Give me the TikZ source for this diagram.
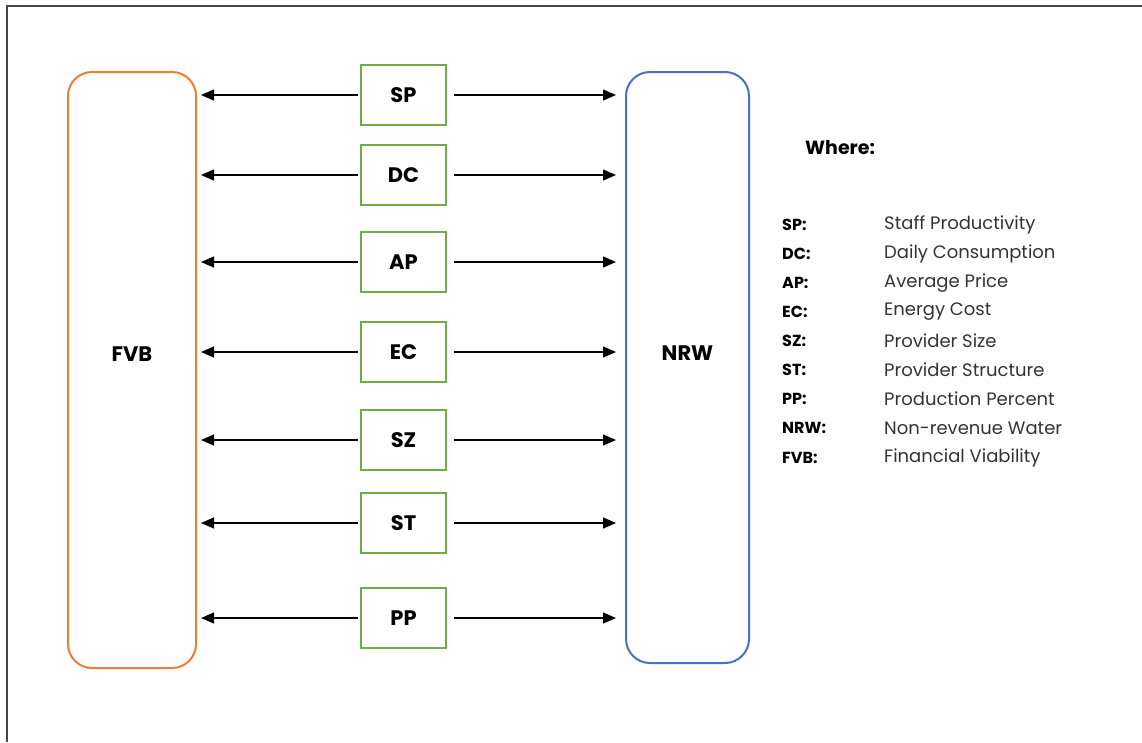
\documentclass[tikz,border=0pt]{standalone}
\usepackage{fontspec}
\setmainfont{Poppins}
\usetikzlibrary{arrows.meta}
\definecolor{orng}{RGB}{237,125,49}
\definecolor{blu}{RGB}{68,114,196}
\definecolor{grn}{RGB}{112,173,71}
\definecolor{framegray}{RGB}{70,70,70}
\tikzset{
  bigbox/.style={draw, line width=2pt, rounded corners=24pt, inner sep=0pt},
  varbox/.style={draw=grn, line width=2pt, minimum width=85pt, minimum height=60pt, inner sep=0pt, font=\fontsize{21}{24}\selectfont\bfseries},
  biglabel/.style={font=\fontsize{21}{24}\selectfont\bfseries},
  arr/.style={line width=1.3pt, -{Triangle[length=13pt,width=11pt]}},
  abbr/.style={anchor=west, font=\fontsize{16}{19}\selectfont\bfseries, inner sep=0pt},
  desc/.style={anchor=west, font=\fontsize{18}{21}\selectfont, text=black!80, inner sep=0pt}
}
\begin{document}
\begin{tikzpicture}[x=1pt,y=-1pt]
\useasboundingbox (0,0) rectangle (1142,742);
\draw[line width=2pt, framegray] (6.5,742) -- (6.5,5.5) -- (1142,5.5);

\node[bigbox, draw=orng, minimum width=128pt, minimum height=596pt] (FVB) at (132,370) {};
\node[biglabel] (FVBt) at ([yshift=16pt]FVB.center) {FVB};
\node[bigbox, draw=blu, minimum width=123pt, minimum height=591pt] (NRW) at (687.5,367.5) {};
\node[biglabel] (NRWt) at ([yshift=14pt]NRW.center) {NRW};

\foreach \n/\yy in {SP/95, DC/175, AP/262, EC/352, SZ/440, ST/523, PP/618} {
  \node[varbox] (\n) at (403.5,\yy) {\n};
  \draw[arr, shorten >=4pt] ([xshift=-2pt]\n.west) -- (FVB.east |- \n.west);
  \draw[arr, shorten >=9pt] ([xshift=7pt]\n.east) -- (NRW.west |- \n.east);
}

\node[anchor=west, font=\fontsize{19}{22}\selectfont\bfseries, inner sep=0pt] (where) at (805,148) {Where:};
\foreach \i/\a/\d/\yy in {1/SP:/Staff Productivity/225, 2/DC:/Daily Consumption/254, 3/AP:/Average Price/283, 4/EC:/Energy Cost/312, 5/SZ:/Provider Size/341, 6/ST:/Provider Structure/370, 7/PP:/Production Percent/399, 8/NRW:/Non-revenue Water/428, 9/FVB:/Financial Viability/458} {
  \node[abbr] (a\i) at (782,\yy) {\a};
  \node[desc] (d\i) at (884,\yy) {\d};
}
\end{tikzpicture}
\end{document}
